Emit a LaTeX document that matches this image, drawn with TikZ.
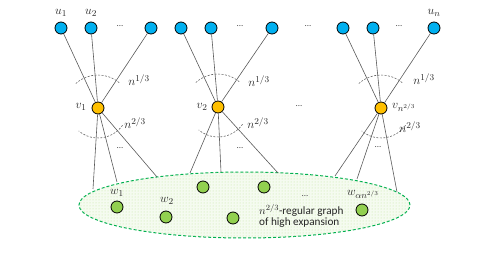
\documentclass[tikz,border=0pt]{standalone}
\usepackage{fontspec}
\setmainfont{Carlito}
\usetikzlibrary{patterns}
\definecolor{ublue}{RGB}{0,176,240}
\definecolor{vorange}{RGB}{255,192,0}
\definecolor{wgreen}{RGB}{146,208,80}
\definecolor{egreen}{RGB}{0,176,80}
\definecolor{efill}{RGB}{245,251,240}
\begin{document}
\begin{tikzpicture}[x=1pt,y=1pt,
  unode/.style={circle,draw=black,line width=0.8pt,fill=ublue,minimum size=12pt,inner sep=0pt},
  vnode/.style={circle,draw=black,line width=0.8pt,fill=vorange,minimum size=12pt,inner sep=0pt},
  wnode/.style={circle,draw=black,line width=0.8pt,fill=wgreen,minimum size=12pt,inner sep=0pt},
  edge/.style={draw=black!65,line width=0.6pt},
  arcline/.style={draw=black!60,line width=0.6pt,dash pattern=on 2pt off 1.5pt},
  lbl/.style={font=\fontsize{12.5}{14}\selectfont,inner sep=0pt,text=black!85},
  dots/.style={font=\fontsize{9}{10}\selectfont,inner sep=0pt,text=black!70},
  txt/.style={font=\fontsize{11.2}{13}\selectfont,inner sep=0pt,anchor=west,text=black!85}]
\useasboundingbox (0,0) rectangle (479,254);
% ellipse
\draw[egreen,line width=1pt,dash pattern=on 3pt off 2pt,fill=efill,
      postaction={pattern=dots,pattern color=wgreen!55}]
  (244.5,49) ellipse [x radius=165.5,y radius=33];
% top nodes
\node[unode] (u1) at (61,226) {};
\node[unode] (u2) at (91,226) {};
\node[unode] (u3) at (151,226) {};
\node[unode] (u4) at (181,226) {};
\node[unode] (u5) at (211,226) {};
\node[unode] (u6) at (272,226) {};
\node[unode] (u7) at (343,226) {};
\node[unode] (u8) at (373,226) {};
\node[unode] (u9) at (434,226) {};
\node[dots] (d1) at (120,228) {...};
\node[dots] (d2) at (240,228) {...};
\node[dots] (d3) at (308,228) {...};
\node[dots] (d4) at (399,228) {...};
\node[lbl] (lu1) at (61,241) {$u_1$};
\node[lbl] (lu2) at (91,241) {$u_2$};
\node[lbl] (lun) at (434,241) {$u_n$};
% v nodes
\node[vnode] (v1) at (98,146) {};
\node[vnode] (v2) at (218,147) {};
\node[vnode] (v3) at (381,146) {};
\node[lbl] (lv1) at (81,147) {$v_1$};
\node[lbl] (lv2) at (202,147) {$v_2$};
\node[lbl,anchor=west] (lv3) at (392,147) {$v_{n^{2/3}}$};
\node[dots] (dm) at (299,148) {...};
% edges top
\foreach \u/\v in {u1/v1,u2/v1,u3/v1,u4/v2,u5/v2,u6/v2,u7/v3,u8/v3,u9/v3}
  \draw[edge] (\u) -- (\v);
% bottom endpoints on ellipse
\coordinate (e11) at (93,65);
\coordinate (e12) at (117,72);
\coordinate (e13) at (157,77);
\coordinate (e21) at (190,81);
\coordinate (e22) at (221,82);
\coordinate (e23) at (278,81);
\coordinate (e31) at (335,78);
\coordinate (e32) at (357,75);
\coordinate (e33) at (397,62);
\foreach \v/\e in {v1/e11,v1/e12,v1/e13,v2/e21,v2/e22,v2/e23,v3/e31,v3/e32,v3/e33}
  \draw[edge] (\v) -- (\e);
\node[dots] (dl1) at (120,106) {...};
\node[dots] (dl2) at (240,106) {...};
\node[dots] (dl3) at (378,107) {...};
% arcs
\foreach \v in {v1,v2,v3}{
  \draw[arcline] ([shift={(50:33)}]\v.center) arc[start angle=50,end angle=132,radius=33];
  \draw[arcline] ([shift={(-35:30)}]\v.center) arc[start angle=-35,end angle=-130,radius=30];
}
\node[lbl] (a11) at (139,174) {$n^{1/3}$};
\node[lbl] (a21) at (259,173) {$n^{1/3}$};
\node[lbl] (a31) at (424,175) {$n^{1/3}$};
\node[lbl] (a12) at (135,131) {$n^{2/3}$};
\node[lbl] (a22) at (258,131) {$n^{2/3}$};
\node[lbl] (a32) at (410,127) {$n^{2/3}$};
% w nodes
\node[wnode] (w1) at (117,47) {};
\node[wnode] (w2) at (166,37) {};
\node[wnode] (w3) at (203,67) {};
\node[wnode] (w4) at (233,36) {};
\node[wnode] (w5) at (264,67) {};
\node[wnode] (w6) at (362,44) {};
\node[lbl] (lw1) at (117,61) {$w_1$};
\node[lbl] (lw2) at (167,53) {$w_2$};
\node[lbl] (lw6) at (363,60) {$w_{\alpha n^{2/3}}$};
\node[dots] (dw) at (305,58) {...};
\node[txt] (t1) at (259,44) {$n^{2/3}$-regular graph};
\node[txt] (t2) at (259,31) {of high expansion};
\end{tikzpicture}
\end{document}
